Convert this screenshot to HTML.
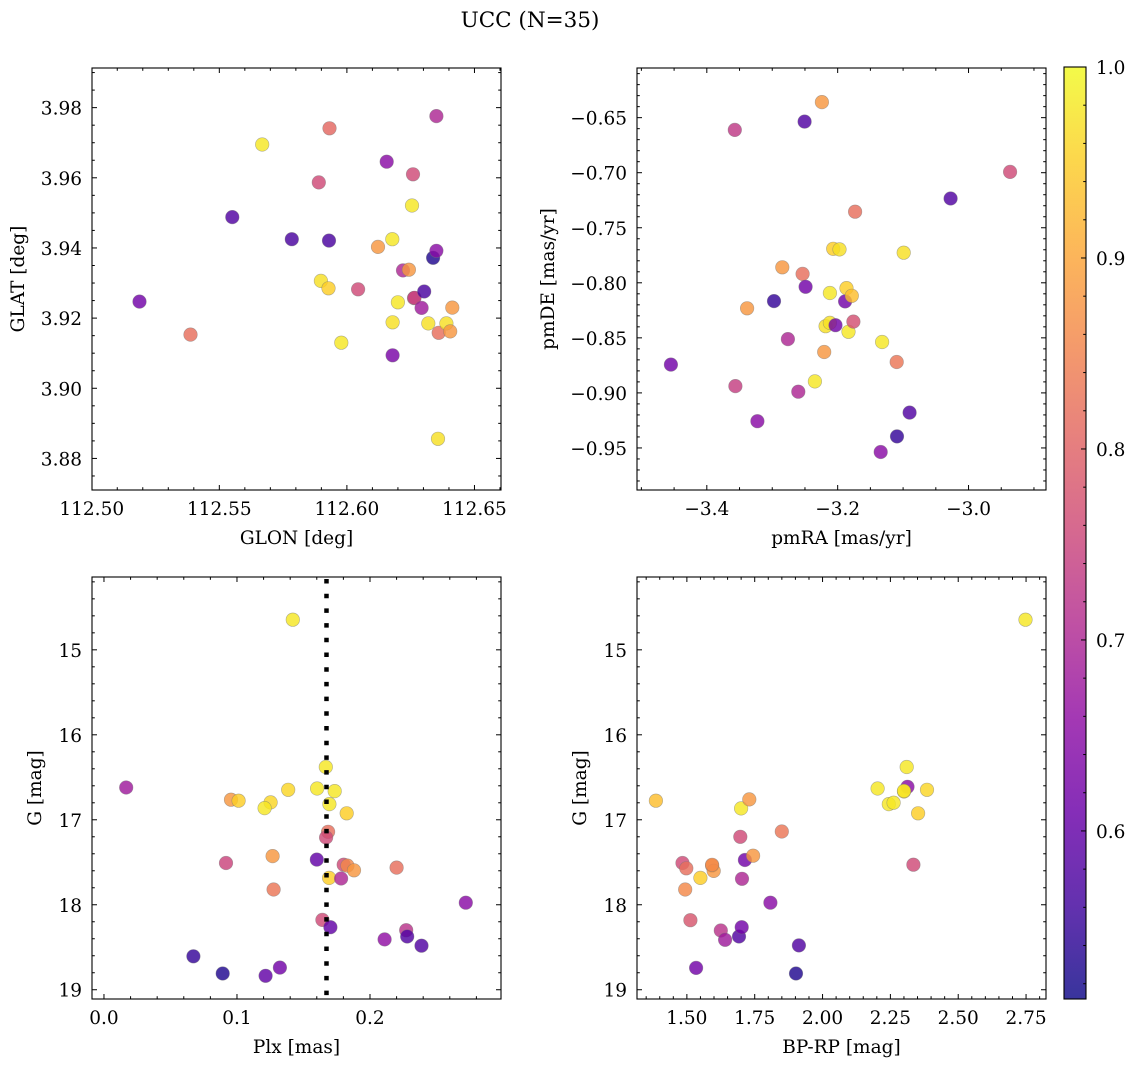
<!DOCTYPE html>
<html><head><meta charset="utf-8">
<style>
body{margin:0;background:#fff;}
svg{display:block;font-family:"DejaVu Serif","Liberation Serif",serif;}
</style></head>
<body>
<svg id="fig" width="1136" height="1067" viewBox="0 0 1136 1067" xmlns="http://www.w3.org/2000/svg">
<text x="530" y="27" font-size="21.5" text-anchor="middle">UCC (N=35)</text>
</svg>
<script>
// ---------- data ----------
const glon = [112.5187,112.5387,112.5551,112.5668,112.5784,112.5898,112.5928,112.5932,112.5890,112.5930,112.5978,112.6044,112.6122,112.6156,112.6178,112.6179,112.6179,112.6200,112.6220,112.6243,112.6255,112.6259,112.6263,112.6265,112.6293,112.6303,112.6319,112.6338,112.6351,112.6351,112.6360,112.6357,112.6390,112.6405,112.6413];
const glat = [3.9247,3.9153,3.9488,3.9695,3.9425,3.9306,3.9285,3.9741,3.9587,3.9421,3.9130,3.9282,3.9403,3.9646,3.9425,3.9188,3.9094,3.9245,3.9336,3.9338,3.9521,3.9610,3.9257,3.9258,3.9229,3.9276,3.9185,3.9372,3.9392,3.9776,3.9158,3.8856,3.9185,3.9162,3.9230];
const prob1 = [0.62,0.82,0.58,0.98,0.57,0.97,0.95,0.81,0.76,0.57,0.98,0.76,0.88,0.65,0.98,0.97,0.63,0.98,0.70,0.88,0.98,0.76,0.77,0.74,0.68,0.57,0.97,0.53,0.65,0.70,0.82,0.97,0.97,0.88,0.88];

const pmra = [-3.4549,-3.3573,-3.3563,-3.3385,-3.3227,-3.2973,-3.2846,-3.2760,-3.2602,-3.2536,-3.2506,-3.2490,-3.2348,-3.2241,-3.2206,-3.2185,-3.2119,-3.2119,-3.2069,-3.2033,-3.1972,-3.1886,-3.1865,-3.1835,-3.1784,-3.1759,-3.1733,-3.1342,-3.1321,-3.1098,-3.1093,-3.0991,-3.0900,-3.0274,-2.9365];
const pmde = [-0.8743,-0.6611,-0.8938,-0.8232,-0.9257,-0.8166,-0.7859,-0.8511,-0.8989,-0.7919,-0.6536,-0.8036,-0.8896,-0.6359,-0.8629,-0.8394,-0.8093,-0.8364,-0.7691,-0.8385,-0.7697,-0.8169,-0.8048,-0.8445,-0.8118,-0.8352,-0.7354,-0.9537,-0.8538,-0.8719,-0.9395,-0.7727,-0.9179,-0.7234,-0.6993];
const prob2 = [0.62,0.73,0.74,0.88,0.65,0.55,0.88,0.70,0.70,0.82,0.58,0.62,0.98,0.88,0.88,0.97,0.98,0.97,0.95,0.62,0.97,0.62,0.95,0.98,0.93,0.77,0.82,0.65,0.98,0.83,0.55,0.97,0.58,0.58,0.76];

const plx = [0.01675,0.06725,0.08925,0.09175,0.0955,0.10125,0.12525,0.12075,0.1385,0.12675,0.1275,0.142,0.1215,0.13225,0.16025,0.16675,0.1735,0.1695,0.1825,0.1685,0.167,0.16,0.16925,0.16425,0.17025,0.18025,0.183,0.188,0.17825,0.22,0.211,0.22725,0.228,0.23875,0.272];
const gmag3 = [16.620,18.607,18.809,17.508,16.764,16.776,16.796,16.862,16.647,17.427,17.820,14.646,18.836,18.739,16.632,16.379,16.663,16.815,16.924,17.142,17.208,17.469,17.684,18.178,18.264,17.528,17.539,17.594,17.691,17.563,18.408,18.299,18.373,18.482,17.976];
const prob3 = [0.68,0.55,0.53,0.75,0.88,0.95,0.96,0.98,0.96,0.88,0.83,0.98,0.60,0.62,0.98,0.98,0.98,0.98,0.95,0.82,0.76,0.60,0.95,0.76,0.60,0.76,0.86,0.88,0.70,0.82,0.66,0.72,0.58,0.58,0.65];
const plxMedian = [0.1673];

const bprp = [1.386,1.484,1.498,1.494,1.513,1.534,1.550,1.593,1.599,1.625,1.641,1.692,1.702,1.703,1.697,1.700,1.714,1.730,1.744,1.808,1.850,1.902,1.913,2.203,2.244,2.262,2.310,2.313,2.300,2.352,2.385,2.335,2.748,2.300,1.593];
const gmag4 = [16.776,17.508,17.571,17.820,18.182,18.743,17.684,17.539,17.602,18.303,18.412,18.373,18.264,17.695,17.200,16.866,17.473,16.760,17.423,17.976,17.138,18.809,18.478,16.632,16.815,16.799,16.379,16.612,16.667,16.924,16.647,17.528,14.646,16.660,17.530];
const prob4 = [0.93,0.76,0.82,0.86,0.78,0.62,0.95,0.88,0.88,0.72,0.68,0.58,0.62,0.70,0.76,0.98,0.62,0.88,0.88,0.65,0.83,0.53,0.58,0.98,0.98,0.98,0.98,0.65,0.96,0.95,0.96,0.76,0.98,0.98,0.86];

const cbTicks = [0.6,0.7,0.8,0.9,1.0];
const cbMin = 0.512, cbMax = 1.0;

// ---------- helpers ----------
const NS = "http://www.w3.org/2000/svg";
const svg = document.getElementById('fig');
const TF = 18.5, LF = 18.5;
function mk(tag, attrs, parent){const e=document.createElementNS(NS,tag);for(const k in attrs)e.setAttribute(k,attrs[k]);(parent||svg).appendChild(e);return e;}
const plasma=[[13,8,135],[65,4,157],[106,0,168],[143,13,164],[177,42,144],[204,71,120],[225,100,98],[242,132,75],[252,166,54],[252,206,37],[240,249,33]];
function cmap(v){let t=(v-cbMin)/(cbMax-cbMin);t=Math.max(0,Math.min(1,t));const f=t*10;const i=Math.min(9,Math.floor(f));const r=f-i;const a=plasma[i],b=plasma[i+1];return 'rgb('+[0,1,2].map(k=>Math.round(a[k]+(b[k]-a[k])*r)).join(',')+')';}
function fmt(v,d){const s=Math.abs(v).toFixed(d);return (v<-1e-9?'\u2212':'')+s;}

function panel(cfg, xs, ys, cs){
  const g=mk('g',{});
  
  
  const X=v=>cfg.x0+(v-cfg.xlim[0])/(cfg.xlim[1]-cfg.xlim[0])*cfg.w;
  const Y=v=>cfg.y0+(v-cfg.ylim[0])/(cfg.ylim[1]-cfg.ylim[0])*cfg.h;
  const pts=mk('g',{},g);
  
  
  for(let i=0;i<xs.length;i++){
    const c=mk('circle',{cx:X(xs[i]).toFixed(1),cy:Y(ys[i]).toFixed(1),r:6.8,fill:cmap(cs[i]),'fill-opacity':0.82,stroke:'#777','stroke-opacity':0.55,'stroke-width':0.6},pts);
    
    
  }
  if(cfg.vline){
    const l=mk('line',{x1:X(cfg.vline),x2:X(cfg.vline),y1:cfg.y0+2,y2:cfg.y0+cfg.h,stroke:'#000','stroke-width':4.5,'stroke-dasharray':'4.5 10.2'},g);
    
    
  }
  const tk=mk('g',{stroke:'#000','stroke-width':1},g);
  
  
  const xa=Math.min(...cfg.xlim),xb=Math.max(...cfg.xlim),ya=Math.min(...cfg.ylim),yb=Math.max(...cfg.ylim);
  const n0=Math.ceil(xa/cfg.xmin-1e-6),n1=Math.floor(xb/cfg.xmin+1e-6);
  for(let n=n0;n<=n1;n++){const v=n*cfg.xmin;const px=X(v);const maj=cfg.xticks.some(t=>Math.abs(t-v)<cfg.xmin/4);const L=maj?5:2.8;
    mk('line',{x1:px,x2:px,y1:cfg.y0+cfg.h,y2:cfg.y0+cfg.h-L},tk);mk('line',{x1:px,x2:px,y1:cfg.y0,y2:cfg.y0+L},tk);}
  const m0=Math.ceil(ya/cfg.ymin-1e-6),m1=Math.floor(yb/cfg.ymin+1e-6);
  for(let n=m0;n<=m1;n++){const v=n*cfg.ymin;const py=Y(v);const maj=cfg.yticks.some(t=>Math.abs(t-v)<cfg.ymin/4);const L=maj?5:2.8;
    mk('line',{y1:py,y2:py,x1:cfg.x0,x2:cfg.x0+L},tk);mk('line',{y1:py,y2:py,x1:cfg.x0+cfg.w,x2:cfg.x0+cfg.w-L},tk);}
  const fr=mk('rect',{x:cfg.x0,y:cfg.y0,width:cfg.w,height:cfg.h,fill:'none',stroke:'#000','stroke-width':1.1},g);
  
  
  cfg.xticks.forEach(v=>{const t=mk('text',{x:X(v),y:cfg.y0+cfg.h+25,'font-size':TF,'text-anchor':'middle'},g);t.textContent=fmt(v,cfg.xd);
    
    });
  cfg.yticks.forEach(v=>{const t=mk('text',{x:cfg.x0-10,y:Y(v)+7,'font-size':TF,'text-anchor':'end'},g);t.textContent=fmt(v,cfg.yd);
    
    });
  const xl=mk('text',{x:cfg.x0+cfg.w/2,y:cfg.y0+cfg.h+54,'font-size':LF,'text-anchor':'middle'},g);xl.textContent=cfg.xlabel;
  
  
  const yl=mk('text',{x:0,y:0,'font-size':LF,'text-anchor':'middle',transform:'translate('+cfg.ylx+','+(cfg.y0+cfg.h/2)+') rotate(-90)'},g);yl.textContent=cfg.ylabel;
  
  
}

panel({name:'glon-glat-panel',x0:92,y0:68,w:409,h:422,xlim:[112.5001,112.6604],ylim:[3.9913,3.8710],
  xticks:[112.50,112.55,112.60,112.65],xmin:0.01,xd:2,yticks:[3.88,3.90,3.92,3.94,3.96,3.98],ymin:0.005,yd:2,
  xlabel:'GLON [deg]',ylabel:'GLAT [deg]',ylx:24}, glon, glat, prob1);
panel({name:'pm-panel',x0:637,y0:68,w:409,h:422,xlim:[-3.5067,-2.8816],ylim:[-0.6049,-0.9882],
  xticks:[-3.4,-3.2,-3.0],xmin:0.05,xd:1,yticks:[-0.65,-0.70,-0.75,-0.80,-0.85,-0.90,-0.95],ymin:0.01,yd:2,
  xlabel:'pmRA [mas/yr]',ylabel:'pmDE [mas/yr]',ylx:554}, pmra, pmde, prob2);
panel({name:'plx-g-panel',x0:92,y0:577,w:409,h:422,xlim:[-0.009,0.2985],ylim:[14.143,19.109],
  xticks:[0.0,0.1,0.2],xmin:0.02,xd:1,yticks:[15,16,17,18,19],ymin:0.2,yd:0,
  xlabel:'Plx [mas]',ylabel:'G [mag]',ylx:41,vline:plxMedian[0]}, plx, gmag3, prob3);
panel({name:'cmd-panel',x0:637,y0:577,w:409,h:422,xlim:[1.3162,2.8235],ylim:[14.143,19.109],
  xticks:[1.50,1.75,2.00,2.25,2.50,2.75],xmin:0.05,xd:2,yticks:[15,16,17,18,19],ymin:0.2,yd:0,
  xlabel:'BP-RP [mag]',ylabel:'G [mag]',ylx:586}, bprp, gmag4, prob4);

// ---------- colorbar ----------
(function(){
  const cx=1064,cy=67,cw=22,ch=932;
  const CY=v=>cy+(cbMax-v)/(cbMax-cbMin)*ch;
  const defs=mk('defs',{});
  const lg=mk('linearGradient',{id:'cbg',x1:0,y1:1,x2:0,y2:0},defs);
  plasma.forEach((c,i)=>mk('stop',{offset:(i/10),'stop-color':'rgb('+c.join(',')+')','stop-opacity':0.82},lg));
  const g=mk('g',{});
  
  
  mk('rect',{x:cx,y:cy,width:cw,height:ch,fill:'url(#cbg)'},g);
  for(let n=Math.ceil(cbMin/0.02);n<=50;n++){const v=n*0.02;const maj=cbTicks.some(t=>Math.abs(t-v)<0.005);
    mk('line',{x1:cx+cw,x2:cx+cw-(maj?5:2.8),y1:CY(v),y2:CY(v),stroke:'#000','stroke-width':1},g);}
  mk('rect',{x:cx,y:cy,width:cw,height:ch,fill:'none',stroke:'#000','stroke-width':1.1},g);
  cbTicks.forEach(v=>{const t=mk('text',{x:cx+cw+10,y:CY(v)+7,'font-size':TF},g);t.textContent=v.toFixed(1);
    
    });
})();
</script>
</body></html>
